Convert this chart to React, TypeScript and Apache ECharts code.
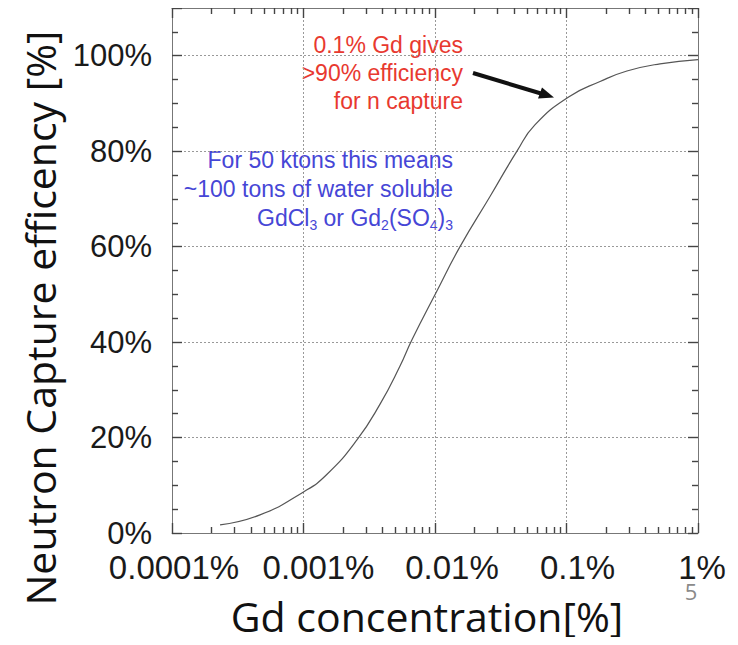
import React, { useEffect, useRef } from "react";
import * as echarts from "echarts";

// Gd concentration [%] and neutron capture efficiency [%]
const concentration = [
  0.000232, 0.000467, 0.001, 0.00151, 0.00255, 0.00382, 0.00542, 0.00668,
  0.0102, 0.0155, 0.0262, 0.042, 0.0575, 0.1045, 0.18, 0.288, 0.514, 1.0,
];
const efficiency = [
  1.7, 3.8, 8.6, 12.3, 19.5, 27, 35, 40.5, 50.4, 60, 70.5, 80, 85.5, 91.4,
  94.6, 96.8, 98.3, 99.2,
];

const xTickLabels = ["0.0001%", "0.001%", "0.01%", "0.1%", "1%"];
const yTickValues = [0, 20, 40, 60, 80, 100];

const redLines = ["0.1% Gd gives", ">90% efficiency", "for n capture"];
const blueLines = [
  "For 50 ktons this means",
  "~100 tons of water soluble",
  "GdCl{sub|3} or Gd{sub|2}(SO{sub|4}){sub|3}",
];

export default function App() {
  const ref = useRef<HTMLDivElement>(null);
  useEffect(() => {
    if (!ref.current) return;
    const chart = echarts.init(ref.current, null, { renderer: "svg" });
    const pts = concentration.map((c, i) => [c, efficiency[i]]);
    const tickFont = "'Liberation Sans', Arial, sans-serif";
    const frameColor = "#444";
    const mkLine = () => ({
      show: true,
      onZero: false,
      lineStyle: { color: "#777", width: 1 },
    });
    const mkTick = () => ({
      show: true,
      inside: true,
      length: 10,
      lineStyle: { color: frameColor, width: 1.4 },
    });
    const mkMinor = (n: number) => ({
      show: true,
      splitNumber: n,
      length: 6,
      lineStyle: { color: frameColor, width: 1.4 },
    });
    const labelOffsets = [4, 30, 34, 22, 8];
    const rich: any = {};
    labelOffsets.forEach((p, i) => {
      rich["l" + i] = {
        fontFamily: tickFont,
        fontSize: 33,
        color: "#1a1a1a",
        padding: [0, 0, 0, p],
      };
    });
    const gridLine = { color: "#999", type: [2, 2], width: 1 };
    chart.setOption({
      animation: false,
      grid: { left: 172, top: 8, right: 40, bottom: 112 },
      xAxis: [
        {
          type: "log",
          min: 0.0001,
          max: 1,
          position: "bottom",
          axisLine: mkLine(),
          axisTick: mkTick(),
          minorTick: mkMinor(9),
          axisLabel: {
            margin: 18,
            formatter: (v: number) => {
              const i = Math.round(Math.log10(v)) + 4;
              return `{l${i}|${xTickLabels[i] ?? ""}}`;
            },
            rich,
          },
          splitLine: { show: true, lineStyle: gridLine },
        },
        {
          type: "log",
          min: 0.0001,
          max: 1,
          position: "top",
          axisLine: mkLine(),
          axisTick: mkTick(),
          minorTick: mkMinor(9),
          axisLabel: { show: false },
          splitLine: { show: false },
        },
      ],
      yAxis: [
        {
          type: "value",
          min: 0,
          max: 110,
          interval: 20,
          position: "left",
          axisLine: mkLine(),
          axisTick: mkTick(),
          minorTick: mkMinor(4),
          axisLabel: {
            margin: 20,
            fontFamily: tickFont,
            fontSize: 31,
            color: "#1a1a1a",
            formatter: (v: number) => (yTickValues.includes(v) ? v + "%" : ""),
          },
          splitLine: { show: true, lineStyle: gridLine },
        },
        {
          type: "value",
          min: 0,
          max: 110,
          interval: 20,
          position: "right",
          axisLine: mkLine(),
          axisTick: mkTick(),
          minorTick: mkMinor(4),
          axisLabel: { show: false },
          splitLine: { show: false },
        },
      ],
      series: [
        {
          type: "line",
          xAxisIndex: 0,
          yAxisIndex: 0,
          data: pts,
          smooth: 0.5,
          showSymbol: false,
          lineStyle: { color: "#555", width: 1.2 },
        },
      ],
      graphic: [
        ...redLines.map((t, i) => ({
          type: "text",
          x: 463,
          y: 45 + i * 28,
          style: {
            text: t,
            align: "right",
            verticalAlign: "middle",
            fontFamily: tickFont,
            fontSize: 23,
            fill: "#e8392f",
          },
        })),
        ...blueLines.map((t, i) => ({
          type: "text",
          x: 453,
          y: 160 + i * 29,
          style: {
            text: t,
            align: "right",
            verticalAlign: "middle",
            fontFamily: tickFont,
            fontSize: 23,
            fill: "#4646d6",
            rich: {
              sub: {
                fontFamily: tickFont,
                fontSize: 14,
                fill: "#4646d6",
                padding: [14, 0, 0, 0],
              },
            },
          },
        })),
        {
          type: "line",
          shape: { x1: 473, y1: 73, x2: 541, y2: 93.5 },
          style: { stroke: "#111", lineWidth: 4 },
        },
        {
          type: "polygon",
          shape: { points: [[554, 97.5], [538, 98.5], [542, 87.5]] },
          style: { fill: "#111" },
        },
        {
          type: "text",
          x: 40,
          y: 318,
          rotation: Math.PI / 2,
          style: {
            text: "Neutron Capture efficency [%]",
            align: "center",
            verticalAlign: "middle",
            fontFamily: "'Open Sans', sans-serif",
            fontSize: 41,
            fill: "#111",
          },
        },
        {
          type: "text",
          x: 427,
          y: 616,
          style: {
            text: "Gd concentration[%]",
            align: "center",
            verticalAlign: "middle",
            fontFamily: "'Open Sans', sans-serif",
            fontSize: 41,
            fill: "#111",
          },
        },
        {
          type: "text",
          x: 691,
          y: 591,
          style: {
            text: "5",
            align: "center",
            verticalAlign: "middle",
            fontFamily: "'Open Sans', sans-serif",
            fontSize: 22,
            fill: "#8a8a8a",
          },
        },
      ],
    });
    return () => chart.dispose();
  }, []);
  return <div ref={ref} style={{ width: 738, height: 645, margin: -8 }} />;
}
